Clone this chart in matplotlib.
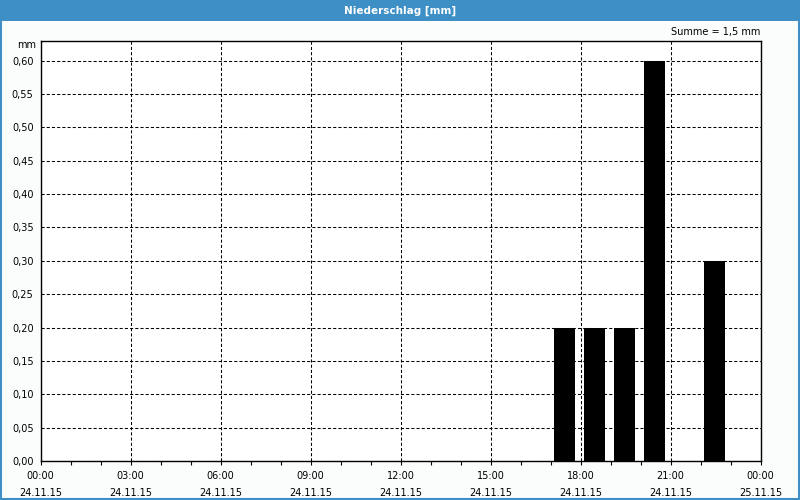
import matplotlib
matplotlib.use("Agg")
import matplotlib.pyplot as plt
from matplotlib.patches import Rectangle

# precipitation per hour (hour of start, mm)
hours = [17, 18, 19, 20, 22]
values = [0.2, 0.2, 0.2, 0.6, 0.3]
xticks = [0, 3, 6, 9, 12, 15, 18, 21, 24]
xlabels = ["00:00\n24.11.15", "03:00\n24.11.15", "06:00\n24.11.15", "09:00\n24.11.15",
           "12:00\n24.11.15", "15:00\n24.11.15", "18:00\n24.11.15", "21:00\n24.11.15",
           "00:00\n25.11.15"]
yticks = [i * 0.05 for i in range(13)]
ylabels = [("%.2f" % v).replace(".", ",") for v in yticks]
title = "Niederschlag [mm]"
total = "Summe = 1,5 mm"

plt.rcParams['font.family'] = ['DejaVu Sans']
blue = "#3d8fc6"

fig = plt.figure(figsize=(8, 5), dpi=100, facecolor="#fbfdfc")
ax = fig.add_axes([40.5 / 800, 1 - 461 / 500, 720 / 800, 420.5 / 500])
ax.set_facecolor("white")

ax.bar([h + 0.45 for h in hours], values, width=0.7, color="black", zorder=3)

ax.set_xlim(0, 24)
ax.set_ylim(0, 0.63)
ax.set_xticks(xticks)
ax.set_xticklabels(xlabels, fontsize=7, linespacing=1.9)
ax.set_xticks(range(25), minor=True)
ax.set_yticks(yticks)
ax.set_yticklabels(ylabels, fontsize=7)
ax.tick_params(axis='both', direction='out', length=3, width=0.8, color="black", pad=4)
ax.tick_params(axis='x', which='minor', length=3, width=0.8)
ax.tick_params(axis='y', length=0, pad=5)
ax.grid(True, color="black", linestyle=(0, (3, 2)), linewidth=0.75, zorder=1)
for s in ax.spines.values():
    s.set_linewidth(1)
    s.set_color("black")

# title bar and frame
fig.patches.append(Rectangle((0, 1 - 20.5 / 500), 1, 20.5 / 500, transform=fig.transFigure,
                             facecolor=blue, edgecolor="none", zorder=0))
fig.patches.append(Rectangle((0.001, 0.002), 0.998, 0.997, transform=fig.transFigure,
                             facecolor="none", edgecolor=blue, linewidth=1.5, zorder=5))
fig.text(0.5, 1 - 10.5 / 500, title, color="white", fontsize=7.5, fontweight="bold",
         ha="center", va="center")
fig.text(760 / 800, 1 - 32 / 500, total, fontsize=7, ha="right", va="center")
fig.text(36 / 800, 1 - 45 / 500, "mm", fontsize=7, ha="right", va="center")

fig.savefig("out.png", dpi=100, facecolor=fig.get_facecolor())
